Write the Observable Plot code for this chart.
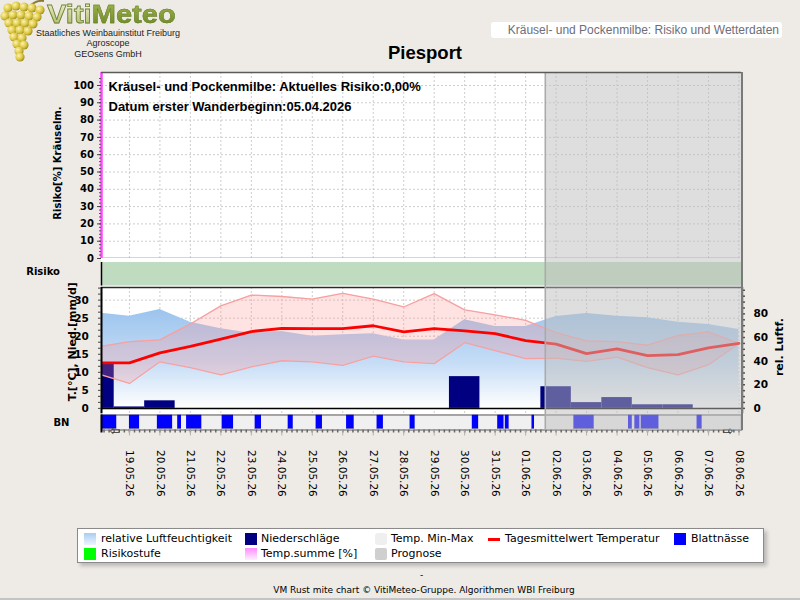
<!DOCTYPE html>
<html><head><meta charset="utf-8">
<script src="https://cdn.jsdelivr.net/npm/d3@7"></script>
<script src="https://cdn.jsdelivr.net/npm/@observablehq/plot@0.6"></script>
<style>
body{margin:0;background:#eeebe7;}
#root{position:relative;width:800px;height:600px;overflow:hidden;background:#eeebe7;font-family:"Liberation Sans",Arial,sans-serif;}
.abs{position:absolute;white-space:nowrap;}
#root svg.pl{position:absolute;left:0;}
.sw{position:absolute;width:12px;height:12px;}
.lt{position:absolute;font:11px "DejaVu Sans",sans-serif;color:#000;line-height:13px;white-space:nowrap;}
</style></head><body><div id="root"></div>
<script>
// ---------------- data ----------------
const dates = ["2026-05-18","2026-05-19","2026-05-20","2026-05-21","2026-05-22","2026-05-23","2026-05-24","2026-05-25","2026-05-26","2026-05-27","2026-05-28","2026-05-29","2026-05-30","2026-05-31","2026-06-01","2026-06-02","2026-06-03","2026-06-04","2026-06-05","2026-06-06","2026-06-07","2026-06-08"];
const tempMax  = [17.1,18.5,19.0,23.4,28.4,31.4,31.0,30.3,31.9,30.3,28.1,31.8,27.3,25.9,24.4,21.0,18.7,18.5,17.5,20.2,21.2,18.0];
const tempMin  = [9.5,6.9,12.9,11.3,9.3,11.5,13.2,12.9,11.9,14.5,12.9,12.4,18.2,16.0,13.8,13.9,13.0,14.2,11.3,9.3,12.1,18.0];
const tempMean = [12.6,12.6,15.4,17.2,19.2,21.3,22.2,22.1,22.1,22.9,21.2,22.1,21.5,20.7,18.8,17.8,15.2,16.5,14.6,14.9,16.8,18.0];
const humidity = [80.7,78.1,83.8,73.0,67.5,63.7,65.0,61.0,62.3,63.1,58.0,58.0,75.0,69.4,69.4,77.8,80.4,78.0,76.8,73.0,71.0,66.8];
const precip   = [12.5,0.4,2.1,0,0,0,0,0,0,0,0,0,8.8,0,0,6.0,1.6,3.0,1.0,1.0,0,0];
const riskLevel = [0,0,0,0,0,0,0,0,0,0,0,0,0,0,0,0,0,0,0,0,0,0];
const tempSum  = [0,0,0,0,0,0,0,0,0,0,0,0,0,0,0,0,0,0,0,0,0,0];
const bnStart = ["2026-05-18T00:00","2026-05-19T00:00","2026-05-19T22:00","2026-05-20T14:00","2026-05-20T21:00","2026-05-22T01:00","2026-05-23T03:00","2026-05-24T05:00","2026-05-25T03:00","2026-05-26T03:00","2026-05-27T03:00","2026-05-28T05:00","2026-05-30T06:00","2026-05-31T02:00","2026-05-31T08:00","2026-06-01T05:00","2026-06-02T14:00","2026-06-04T09:00","2026-06-04T14:00","2026-06-04T19:00","2026-06-06T15:00"];
const bnEnd   = ["2026-05-18T14:00","2026-05-19T08:00","2026-05-20T10:00","2026-05-20T17:00","2026-05-21T09:00","2026-05-22T10:00","2026-05-23T08:00","2026-05-24T09:00","2026-05-25T08:00","2026-05-26T09:00","2026-05-27T08:00","2026-05-28T09:00","2026-05-30T11:00","2026-05-31T07:00","2026-05-31T11:00","2026-06-01T07:00","2026-06-03T06:00","2026-06-04T12:00","2026-06-04T18:00","2026-06-05T09:00","2026-06-06T19:00"];
const forecastStart = "2026-06-01T15:30";
const axisStart = "2026-05-18T02:00", axisEnd = "2026-06-08T02:00";
const riskTicks = [0,10,20,30,40,50,60,70,80,90,100];
const tempTicks = [0,5,10,15,20,25,30];
const humTicks = [0,20,40,60,80];
const infoText = ["Kräusel- und Pockenmilbe: Aktuelles Risiko:0,00%", "Datum erster Wanderbeginn:05.04.2026"];
const titleRisk = "Risiko[%] Kräuselm.";
const titleTemp = "T.[°C], Nied.[mm/d]";
const titleHum = "rel. Luftf.";
const legendLabels = ["relative Luftfeuchtigkeit","Niederschläge","Temp. Min-Max","Tagesmittelwert Temperatur","Blattnässe","Risikostufe","Temp.summe [%]","Prognose"];

// ---------------- build ----------------
const U = s => new Date(s + (s.length === 10 ? "T00:00Z" : "Z"));
const sh = (d, h) => new Date(+d + h * 3600e3);
const xDomain = [U(axisStart), U(axisEnd)];
const days = dates.map((s, i) => ({date: U(s), tmax: tempMax[i], tmin: tempMin[i], tmean: tempMean[i], hum: humidity[i], prec: precip[i], risk: riskLevel[i], tsum: tempSum[i]}));
const dayTicks = days.map(d => d.date).filter(d => d >= xDomain[0]);
const bn = bnStart.map((s, i) => ({start: U(s), end: U(bnEnd[i])}));
const fc = [{start: U(forecastStart), end: xDomain[1]}];
const k = 0.3273; // humidity % -> temperature units (right axis)
const riskColors = ["#c0dcc0", "#f0e890", "#f0a0a0"];
const root = document.getElementById("root");
const FONT = "DejaVu Sans";
const base = {width: 800, marginLeft: 101, marginRight: 59, x: {type: "utc", domain: xDomain, axis: null}};
const dotted = {stroke: "#cdcdcd", strokeOpacity: 1, strokeDasharray: "2,2"};
function place(el, top, extra) { el.classList.add("pl"); el.style.top = top + "px"; if (extra) el.style.pointerEvents = "none"; root.appendChild(el); }
const st = {background: "transparent", overflow: "visible", fontFamily: FONT};

// background of plot area
const bg = document.createElement("div");
bg.className = "abs"; Object.assign(bg.style, {left: "101px", top: "72px", width: "640px", height: "341.5px", background: "#fff"});
root.appendChild(bg);

// Chart A: Risiko Kräuselmilbe
const riskMax = 107.5;
const A = Plot.plot({...base, height: 200, marginTop: 12, marginBottom: 2, style: st,
  y: {domain: [0, riskMax], axis: null},
  marks: [
    Plot.gridY(riskTicks.slice(1), dotted),
    Plot.gridX(dayTicks, dotted),
    Plot.lineY(days, {x: "date", y: "tsum", stroke: "#ff77ff", strokeWidth: 2.2, clip: true}),
    Plot.ruleX([xDomain[0]], {stroke: "#ff44ff", strokeWidth: 2.5}),
    Plot.axisY({ticks: d3.range(0, 106, 2), tickSize: 2, tickFormat: () => "", stroke: "#555", label: null}),
    Plot.axisY({ticks: riskTicks, tickSize: 4, tickPadding: 3.5, fontSize: 10, fontWeight: "bold", stroke: "#444", label: null}),
    Plot.text([infoText.join("\n")], {text: d => d, frameAnchor: "top-left", dx: 7, dy: 5, lineHeight: 1.5, fontSize: 13, fontWeight: "bold", fontFamily: "Liberation Sans", fill: "#000"}),
    Plot.text([titleRisk], {text: d => d, frameAnchor: "left", textAnchor: "middle", lineAnchor: "middle", dx: -43.5, dy: -2.5, rotate: -90, fontSize: 10, fontWeight: "bold"})
  ]});
place(A, 60);

// Chart B: Risikostufe band
const B = Plot.plot({...base, height: 28, marginTop: 3, marginBottom: 1.5, style: st,
  y: {domain: [0, 1], axis: null},
  marks: [
    Plot.rect(days, {x1: d => sh(d.date, -12), x2: d => sh(d.date, 12), y1: 0, y2: 1, fill: d => riskColors[d.risk], clip: true, shapeRendering: "crispEdges"}),
    Plot.ruleX([xDomain[0]], {stroke: "#000", strokeWidth: 1.5}),
    Plot.axisY({ticks: [0.6], tickSize: 0, tickPadding: 41.5, tickFormat: () => "Risiko", fontSize: 10, fontWeight: "bold", label: null})
  ]});
place(B, 259);

// Chart C: temperature, precipitation, humidity
const gradMark = () => {
  const ns = "http://www.w3.org/2000/svg";
  const defs = document.createElementNS(ns, "defs");
  defs.innerHTML = '<linearGradient id="humGrad" x1="0" y1="0" x2="0" y2="1"><stop offset="0" stop-color="#9cc4ee"/><stop offset="0.55" stop-color="#c6ddf6"/><stop offset="1" stop-color="#ffffff"/></linearGradient>';
  return defs;
};
const C = Plot.plot({...base, height: 140, marginTop: 7, marginBottom: 6.7, style: st,
  y: {domain: [-1.5, 33.5], axis: null},
  marks: [
    gradMark,
    Plot.gridY(tempTicks.slice(1), dotted),
    Plot.gridX(dayTicks, dotted),
    Plot.areaY(days, {x: "date", y1: 0, y2: d => d.hum * k, fill: "url(#humGrad)", clip: true}),
    Plot.rect(days.filter(d => d.prec > 0), {x1: d => sh(d.date, -12), x2: d => sh(d.date, 12), y1: 0, y2: "prec", fill: "#000080", clip: true}),
    Plot.rect(days.filter(d => d.prec > 0), {x1: d => sh(d.date, -12), x2: d => sh(d.date, 12), y1: -0.15, y2: -0.45, fill: "#ffff40", clip: true}),
    Plot.areaY(days, {x: "date", y1: "tmin", y2: "tmax", fill: "#ff8c8c", fillOpacity: 0.25, clip: true}),
    Plot.lineY(days, {x: "date", y: "tmin", stroke: "#f8a0a0", strokeWidth: 1.3, clip: true}),
    Plot.lineY(days, {x: "date", y: "tmax", stroke: "#f8a0a0", strokeWidth: 1.3, clip: true}),
    Plot.lineY(days, {x: "date", y: "tmean", stroke: "#ff0000", strokeWidth: 2.8, clip: true}),
    Plot.ruleY([0], {stroke: "#000", strokeWidth: 1.5}),
    Plot.ruleY([33.5], {stroke: "#2a2a2a", strokeWidth: 1.6}),
    Plot.ruleX([xDomain[0]], {stroke: "#000", strokeWidth: 2}),
    Plot.ruleX([xDomain[1]], {stroke: "#a8cdf0", strokeWidth: 2, dx: 1.5}),
    Plot.axisY({ticks: d3.range(0, 33.4, 5 / 3), tickSize: 3, tickFormat: () => "", stroke: "#444", label: null}),
    Plot.axisY({ticks: tempTicks, tickSize: 0, tickPadding: 12.7, fontSize: 10.5, fontWeight: "bold", label: null}),
    Plot.axisY({anchor: "right", ticks: d3.range(0, 101, 5).map(h => h * k), tickSize: 3, tickFormat: () => "", stroke: "#555", strokeWidth: 1.5, label: null}),
    Plot.axisY({anchor: "right", ticks: humTicks.map(h => h * k), tickSize: 0, tickPadding: 12, tickFormat: v => Math.round(v / k), fontSize: 10.5, fontWeight: "bold", label: null}),
    Plot.text([titleTemp], {text: d => d, frameAnchor: "left", textAnchor: "middle", lineAnchor: "middle", dx: -29.3, dy: -9, rotate: -90, fontSize: 11, fontWeight: "bold"}),
    Plot.text([titleHum], {text: d => d, frameAnchor: "right", textAnchor: "middle", lineAnchor: "middle", dx: 38, dy: -3.5, rotate: -90, fontSize: 11, fontWeight: "bold"})
  ]});
place(C, 280);

// Chart D: Blattnässe strip and date axis
const D = Plot.plot({...base, height: 100, marginTop: 4.5, marginBottom: 80.5, style: st,
  y: {domain: [0, 1], axis: null},
  marks: [
    Plot.frame({fill: "#f0f0f0", stroke: "#8c8c8c", strokeWidth: 1.5}),
    Plot.rect(bn, {x1: "start", x2: "end", y1: 0, y2: 1, fill: "#0000ff", clip: true}),
    Plot.rect(bn, {x1: "start", x2: "end", y1: -0.04, y2: 0.06, fill: "#ffff40", clip: true}),
    Plot.ruleX([xDomain[0]], {stroke: "#000", strokeWidth: 2, y1: -0.2, y2: 1}),
    Plot.axisX({ticks: d3.utcHour.every(4).range(xDomain[0], xDomain[1]), tickSize: 3, tickFormat: () => "", stroke: "#666", strokeWidth: 1.5, label: null}),
    Plot.axisX({ticks: dayTicks, tickSize: 6, stroke: "#b0b0b0", tickPadding: 14, tickRotate: 90, tickFormat: d3.utcFormat("%d.%m.%y"), fontSize: 10.5, label: null}),
    Plot.axisY({ticks: [0.5], tickSize: 0, tickPadding: 32, tickFormat: () => "BN", fontSize: 10, fontWeight: "bold", label: null}),
    Plot.text(["\u21E6"], {text: d => d, frameAnchor: "bottom-left", dx: 8, dy: 5, fontSize: 13, fill: "#333"}),
    Plot.text(["\u21E8"], {text: d => d, frameAnchor: "bottom-right", dx: -8, dy: 5, fontSize: 13, fill: "#333"})
  ]});
place(D, 410);

// Overlay: Prognose
const E = Plot.plot({...base, height: 375, marginTop: 12, marginBottom: 5, style: st,
  y: {domain: [0, 1], axis: null},
  marks: [
    Plot.rect(fc, {x1: "start", x2: "end", y1: 0, y2: 1, fill: "#bebebe", fillOpacity: 0.5}),
    Plot.ruleX(fc, {x: "start", stroke: "#aaaaaa", strokeWidth: 1.5}),
    Plot.ruleY([1], {stroke: "#5a5a5a", strokeWidth: 1.5}),
    Plot.ruleX([xDomain[1]], {stroke: "#7a7a7a", strokeWidth: 2, dx: 0.5})
  ]});
place(E, 60, true);

// ---------------- header ----------------
function addDiv(html, css) { const d = document.createElement("div"); d.className = "abs"; d.innerHTML = html; Object.assign(d.style, css); root.appendChild(d); return d; }
// grape logo
const grapes = [[8,8],[16,6],[24,7],[32,8],[40,10],[5,16],[13,15],[21,15],[29,16],[37,17],[9,23],[17,23],[25,23],[33,24],[12,30],[20,30],[28,31],[14,37],[22,38],[17,44],[24,45],[19,51],[20,57]];
const gsvg = '<svg width="48" height="64"><defs><radialGradient id="gr" cx="0.35" cy="0.35" r="0.7"><stop offset="0" stop-color="#fbf4b0"/><stop offset="0.6" stop-color="#dcc640"/><stop offset="1" stop-color="#9a8a20"/></radialGradient></defs><path d="M30 6 Q36 0 44 1" stroke="#8a7a30" stroke-width="2" fill="none"/>' + grapes.map(([x,y]) => `<circle cx="${x}" cy="${y}" r="4.6" fill="url(#gr)"/>`).join("") + '</svg>';
addDiv(gsvg, {left: "0px", top: "0px"});
addDiv('<span style="background:linear-gradient(#f4f6d8,#a6b660);-webkit-background-clip:text;background-clip:text;color:transparent;-webkit-text-stroke:0.8px #74843a">Viti</span><span style="background:linear-gradient(#a2b84e,#6a8626);-webkit-background-clip:text;background-clip:text;color:transparent;-webkit-text-stroke:0.4px #667a26">Meteo</span>',
  {left: "47px", top: "0px", font: "bold 25.5px 'Liberation Sans',Arial,sans-serif", lineHeight: "29px", height: "29px", transform: "scaleX(1.14)", transformOrigin: "0 0"});
["Staatliches Weinbauinstitut Freiburg", "Agroscope", "GEOsens GmbH"].forEach((t, i) =>
  addDiv(t, {left: "28px", width: "160px", textAlign: "center", top: (27.5 + i * 10.7) + "px", font: "9px 'Liberation Sans',Arial,sans-serif", lineHeight: "11px", color: "#222"}));
addDiv("Kräusel- und Pockenmilbe: Risiko und Wetterdaten", {left: "491px", top: "21.5px", width: "288px", height: "16px", paddingRight: "3px", textAlign: "right", background: "#fff", borderRadius: "3px", font: "12px 'Liberation Sans',Arial,sans-serif", lineHeight: "16px", color: "#6e6e7a"});
addDiv("Piesport", {left: "325px", width: "200px", textAlign: "center", top: "42px", font: "bold 18.5px 'Liberation Sans',Arial,sans-serif", lineHeight: "22px", color: "#000"});

// ---------------- legend ----------------
const lg = addDiv("", {left: "77px", top: "528px", width: "685px", height: "33px", background: "#fff", border: "1px solid #8a8a8a", boxShadow: "3px 3px 4px rgba(0,0,0,0.22)"});
const swStyles = [
  "background:linear-gradient(#a9ccf2,#eef4fd)",
  "background:#000080",
  "background:#efefef;border-radius:3px",
  "background:#ff0000;height:3px;margin-top:4.5px;",
  "background:#0000ff",
  "background:#00ff00",
  "background:linear-gradient(#ff8cff,#fff0ff)",
  "background:#cfcfcf;border-radius:2px"
];
const swX = [6, 167, 297, 410, 596, 6, 167, 297];
const txX = [23, 183, 313, 427, 613, 23, 183, 313];
const rowY = [3, 18];
legendLabels.forEach((t, i) => {
  const r = i < 5 ? 0 : 1;
  const s = document.createElement("div"); s.className = "sw";
  s.style.cssText = `left:${swX[i]}px;top:${rowY[r]+1}px;` + swStyles[i];
  lg.appendChild(s);
  const l = document.createElement("div"); l.className = "lt"; l.textContent = t;
  l.style.left = txX[i] + "px"; l.style.top = (rowY[r]) + "px";
  lg.appendChild(l);
});

// ---------------- footer ----------------
addDiv("-", {left: "300px", width: "243px", textAlign: "center", top: "570px", font: "9px 'DejaVu Sans',sans-serif", color: "#000"});
addDiv("VM Rust mite chart © VitiMeteo-Gruppe. Algorithmen WBI Freiburg", {left: "224px", width: "400px", textAlign: "center", top: "585px", font: "9px 'DejaVu Sans',sans-serif", color: "#000"});
addDiv("", {left: "0px", top: "598px", width: "800px", height: "2px", background: "#c4c4c4"});
</script></body></html>
